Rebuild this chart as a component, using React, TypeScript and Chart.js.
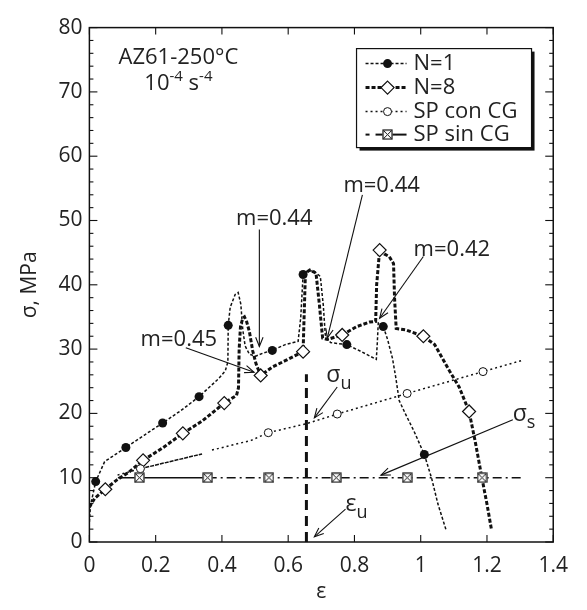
import React, { useEffect, useRef } from "react";
import { Chart, registerables } from "chart.js";
Chart.register(...registerables);

const FONT = "'Open Sans', 'Noto Sans', sans-serif";
const TEXT = "#222";
const INK = "#111";

// ---- axes ----
const xMin = 0, xMax = 1.4, xStep = 0.2;
const yMin = 0, yMax = 80, yStep = 10, yMinorStep = 2;

// ---- N=1 ----
const n1Strain = [0, 0.003, 0.019, 0.046, 0.110, 0.165, 0.221, 0.275, 0.331, 0.39, 0.41, 0.418, 0.419, 0.425, 0.44, 0.449, 0.457, 0.463, 0.47, 0.483, 0.502, 0.525, 0.552, 0.591, 0.630, 0.638, 0.645, 0.66, 0.679, 0.697, 0.706, 0.712, 0.728, 0.777, 0.817, 0.866, 0.869, 0.872, 0.887, 0.90, 0.915, 0.925, 0.935, 0.955, 0.98, 1.011, 1.033, 1.052, 1.077];
const n1Stress = [3.1, 5.6, 9.4, 12.5, 14.7, 16.6, 18.5, 20.4, 22.6, 25.4, 26.6, 28.0, 33.7, 36.5, 38.5, 38.8, 37.0, 33.0, 30.5, 29.2, 28.9, 29.4, 29.8, 30.7, 31.2, 35.0, 41.6, 42.2, 42.1, 41.3, 36.8, 32.2, 31.0, 30.7, 29.7, 28.4, 31.0, 34.2, 33.5, 31.5, 28.5, 25.5, 22.0, 19.8, 17.2, 13.6, 9.9, 5.9, 1.8];
const n1Markers = [2, 4, 6, 8, 12, 22, 26, 33, 38, 45];

// ---- N=8 ----
const n8Strain = [0, 0.016, 0.048, 0.084, 0.12, 0.162, 0.223, 0.282, 0.340, 0.407, 0.444, 0.450, 0.452, 0.456, 0.463, 0.468, 0.475, 0.483, 0.493, 0.503, 0.517, 0.552, 0.591, 0.645, 0.648, 0.652, 0.665, 0.684, 0.694, 0.704, 0.718, 0.763, 0.807, 0.846, 0.864, 0.867, 0.876, 0.89, 0.905, 0.918, 0.921, 0.926, 0.954, 1.008, 1.042, 1.087, 1.116, 1.146, 1.165, 1.185, 1.2, 1.214];
const n8Stress = [5.4, 6.8, 8.2, 9.7, 10.9, 12.7, 14.7, 16.9, 18.8, 21.6, 22.8, 24.0, 30.0, 33.5, 34.8, 35.0, 34.2, 32.7, 29.7, 27.7, 25.9, 27.2, 28.2, 29.6, 35.0, 41.8, 42.3, 41.8, 37.0, 31.7, 31.5, 32.2, 33.5, 34.2, 34.3, 40.0, 45.4, 44.8, 44.4, 43.3, 38.0, 33.2, 33.0, 32.0, 30.7, 26.6, 24.1, 20.3, 15.5, 9.9, 5.9, 1.8];
const n8Markers = [2, 5, 7, 9, 20, 23, 31, 36, 43, 47];

// ---- SP con CG ----
const spcStrain = [0.085, 0.154, 0.34, 0.355, 0.37, 0.488, 0.540, 0.655, 0.748, 0.959, 1.188, 1.303];
const spcStress = [10.4, 11.4, 13.7, null, 14.3, 15.8, 17.0, 18.4, 19.9, 23.1, 26.5, 28.2];
const spcMarkers = [1, 6, 8, 9, 10];
const spcSolidSegments = [1];

// ---- SP sin CG ----
const spsStrain = [0.086, 0.151, 0.357, 0.542, 0.745, 0.959, 1.185, 1.303];
const spsStress = [10, 10, 10, 10, 10, 10, 10, 10];
const spsMarkers = [1, 2, 3, 4, 5, 6];
const spsSolidSegments = [0, 1];

// ---- uniform strain line ----
const epsUStrain = [0.655, 0.655];
const epsUStress = [0, 26.1];

const legendLabels = ["N=1", "N=8", "SP con CG", "SP sin CG"];

// annotations in data coordinates
const annotations = [
  { text: "m=0.45", sub: "", at: [0.270, 31.8], from: [0.291, 30.2], to: [0.497, 26.4] },
  { text: "m=0.44", sub: "", at: [0.558, 50.5], from: [0.513, 48.6], to: [0.513, 30.4] },
  { text: "m=0.44", sub: "", at: [0.882, 55.6], from: [0.824, 54.0], to: [0.718, 31.7] },
  { text: "m=0.42", sub: "", at: [1.094, 45.7], from: [1.008, 44.4], to: [0.876, 34.8] },
  { text: "σ", sub: "u", at: [0.753, 25.4], from: [0.748, 24.1], to: [0.679, 19.3] },
  { text: "σ", sub: "s", at: [1.312, 19.3], from: [1.278, 19.0], to: [0.880, 10.4] },
  { text: "ε", sub: "u", at: [0.806, 5.3], from: [0.773, 5.1], to: [0.679, 0.8] },
];

function pts(xs: number[], ys: (number | null)[]) {
  return xs.map((x, i) => ({ x, y: ys[i] }));
}

function makeCrossSquare(): HTMLCanvasElement {
  const c = document.createElement("canvas");
  c.width = 11; c.height = 11;
  const g = c.getContext("2d")!;
  g.fillStyle = "#fff";
  g.fillRect(0.5, 0.5, 10, 10);
  g.strokeStyle = INK; g.lineWidth = 1.2;
  g.strokeRect(1, 1, 9, 9);
  g.lineWidth = 1;
  g.beginPath();
  g.moveTo(1.5, 1.5); g.lineTo(9.5, 9.5);
  g.moveTo(9.5, 1.5); g.lineTo(1.5, 9.5);
  g.stroke();
  return c;
}

function line(ctx: CanvasRenderingContext2D, x1: number, y1: number, x2: number, y2: number) {
  ctx.beginPath(); ctx.moveTo(x1, y1); ctx.lineTo(x2, y2); ctx.stroke();
}

function arrow(ctx: CanvasRenderingContext2D, x1: number, y1: number, x2: number, y2: number) {
  ctx.save();
  ctx.setLineDash([]);
  ctx.strokeStyle = INK; ctx.lineWidth = 1.1;
  line(ctx, x1, y1, x2, y2);
  const a = Math.atan2(y2 - y1, x2 - x1);
  const L = 10, s = 0.38;
  ctx.beginPath();
  ctx.moveTo(x2 - L * Math.cos(a - s), y2 - L * Math.sin(a - s));
  ctx.lineTo(x2, y2);
  ctx.lineTo(x2 - L * Math.cos(a + s), y2 - L * Math.sin(a + s));
  ctx.stroke();
  ctx.restore();
}

type Run = { t: string; size: number; dy: number };
function drawRuns(ctx: CanvasRenderingContext2D, runs: Run[], cx: number, baseY: number) {
  let w = 0;
  const ws: number[] = [];
  runs.forEach((r) => { ctx.font = `${r.size}px ${FONT}`; const m = ctx.measureText(r.t).width; ws.push(m); w += m; });
  let x = cx - w / 2;
  ctx.textAlign = "left";
  ctx.textBaseline = "alphabetic";
  runs.forEach((r, i) => { ctx.font = `${r.size}px ${FONT}`; ctx.fillText(r.t, x, baseY + r.dy); x += ws[i]; });
}

const overlayPlugin = {
  id: "overlay",
  afterDatasetsDraw(chart: any) {
    const { ctx, chartArea, scales } = chart;
    const { left, right, top, bottom } = chartArea;
    const x = scales.x, y = scales.y;
    ctx.save();
    // frame
    ctx.strokeStyle = INK; ctx.lineWidth = 1.5; ctx.setLineDash([]);
    ctx.strokeRect(left, top, right - left, bottom - top);
    // inward ticks
    ctx.lineWidth = 1.1;
    for (let v = yMin; v <= yMax + 1e-9; v += yMinorStep) {
      const py = y.getPixelForValue(v);
      const len = Math.abs(v % yStep) < 1e-9 ? 8 : 4;
      line(ctx, left, py, left + len, py);
      line(ctx, right, py, right - len, py);
    }
    x.ticks.forEach((t: any) => {
      const px = x.getPixelForValue(t.value);
      line(ctx, px, bottom, px, bottom - 7);
      line(ctx, px, top, px, top + 7);
    });

    // annotations
    ctx.fillStyle = TEXT;
    annotations.forEach((a) => {
      arrow(ctx, x.getPixelForValue(a.from[0]), y.getPixelForValue(a.from[1]), x.getPixelForValue(a.to[0]), y.getPixelForValue(a.to[1]));
      const cx = x.getPixelForValue(a.at[0]);
      const cy = y.getPixelForValue(a.at[1]);
      if (a.sub) {
        drawRuns(ctx, [{ t: a.text, size: 23, dy: 0 }, { t: a.sub, size: 18, dy: 7 }], cx, cy + 3);
      } else {
        drawRuns(ctx, [{ t: a.text, size: 22, dy: 0 }], cx, cy + 8);
      }
    });

    // title block
    const tx = left + 89;
    drawRuns(ctx, [{ t: "AZ61-250°C", size: 22, dy: 0 }], tx, top + 36);
    drawRuns(ctx, [
      { t: "10", size: 22, dy: 0 }, { t: "-4", size: 15, dy: -9 },
      { t: " s", size: 22, dy: 0 }, { t: "-4", size: 15, dy: -9 },
    ], tx, top + 62);

    // legend
    const bw = 175, bh = 99;
    const bx = right - 21.7 - bw, by = top + 21;
    ctx.fillStyle = INK;
    ctx.fillRect(bx + 3, by + 3, bw, bh);
    ctx.fillStyle = "#fff";
    ctx.fillRect(bx, by, bw, bh);
    ctx.strokeStyle = INK; ctx.lineWidth = 1.2;
    ctx.strokeRect(bx, by, bw, bh);
    const rows = [15, 39, 63, 86];
    const sx1 = bx + 9, sx2 = bx + 50, mx = bx + 31;
    // N=1
    ctx.save();
    ctx.lineWidth = 1.5; ctx.setLineDash([3, 2]);
    line(ctx, sx1, by + rows[0], sx2, by + rows[0]);
    ctx.setLineDash([]);
    ctx.fillStyle = INK; ctx.beginPath(); ctx.arc(mx, by + rows[0], 4.5, 0, Math.PI * 2); ctx.fill();
    // N=8
    ctx.lineWidth = 3; ctx.setLineDash([4, 2]);
    line(ctx, sx1, by + rows[1], sx2, by + rows[1]);
    ctx.setLineDash([]);
    ctx.fillStyle = "#fff"; ctx.lineWidth = 1.2;
    ctx.beginPath(); const d = 6.5, ry = by + rows[1];
    ctx.moveTo(mx, ry - d); ctx.lineTo(mx + d, ry); ctx.lineTo(mx, ry + d); ctx.lineTo(mx - d, ry); ctx.closePath();
    ctx.fill(); ctx.stroke();
    // SP con CG
    ctx.lineWidth = 1.5; ctx.setLineDash([2, 3]);
    line(ctx, sx1, by + rows[2], sx2, by + rows[2]);
    ctx.setLineDash([]); ctx.lineWidth = 1;
    ctx.beginPath(); ctx.arc(mx, by + rows[2], 4, 0, Math.PI * 2); ctx.fill(); ctx.stroke();
    // SP sin CG
    ctx.lineWidth = 2; ctx.setLineDash([]);
    line(ctx, sx1, by + rows[3], sx1 + 4, by + rows[3]);
    line(ctx, sx1 + 10, by + rows[3], sx2, by + rows[3]);
    ctx.drawImage(crossSquare, mx - 5.5, by + rows[3] - 5.5);
    ctx.restore();
    ctx.fillStyle = TEXT;
    ctx.font = `22px ${FONT}`;
    ctx.textAlign = "left"; ctx.textBaseline = "middle";
    legendLabels.forEach((l, i) => ctx.fillText(l, bx + 57, by + rows[i]));
    ctx.restore();
  },
};

let crossSquare: HTMLCanvasElement;

export default function App() {
  const ref = useRef<HTMLCanvasElement>(null);
  useEffect(() => {
    if (!ref.current) return;
    crossSquare = makeCrossSquare();
    const radius = (idx: number[], r: number) => (c: any) => (idx.includes(c.dataIndex) ? r : 0);
    const chart = new Chart(ref.current, {
      type: "scatter",
      data: {
        datasets: [
          {
            label: "εu", data: pts(epsUStrain, epsUStress), showLine: true,
            borderColor: INK, borderWidth: 3, borderDash: [10, 6], pointRadius: 0,
          },
          {
            label: legendLabels[3], data: pts(spsStrain, spsStress), showLine: true,
            borderColor: INK, borderWidth: 1.5, borderDash: [9, 4, 2, 4],
            segment: { borderDash: (c: any) => (spsSolidSegments.includes(c.p0DataIndex) ? [] : [9, 4, 2, 4]) },
            pointStyle: () => crossSquare, pointRadius: radius(spsMarkers, 5.5),
          },
          {
            label: legendLabels[2], data: pts(spcStrain, spcStress as any), showLine: true, spanGaps: false,
            borderColor: INK, borderWidth: 1.5, borderDash: [2, 3],
            segment: { borderDash: (c: any) => (spcSolidSegments.includes(c.p0DataIndex) ? [4, 1] : [2, 3]) },
            pointStyle: "circle", pointRadius: radius(spcMarkers, 4),
            pointBackgroundColor: "#fff", pointBorderColor: INK, pointBorderWidth: 1,
          },
          {
            label: legendLabels[1], data: pts(n8Strain, n8Stress), showLine: true,
            borderColor: INK, borderWidth: 3, borderDash: [4, 2],
            pointStyle: "rectRot", pointRadius: radius(n8Markers, 6.5),
            pointBackgroundColor: "#fff", pointBorderColor: INK, pointBorderWidth: 1.2,
          },
          {
            label: legendLabels[0], data: pts(n1Strain, n1Stress), showLine: true,
            borderColor: INK, borderWidth: 1.5, borderDash: [3, 2],
            pointStyle: "circle", pointRadius: radius(n1Markers, 4.5),
            pointBackgroundColor: INK, pointBorderColor: INK, pointBorderWidth: 0,
          },
        ],
      },
      options: {
        responsive: false,
        animation: false,
        events: [],
        layout: { padding: { top: 8, right: 14, left: 0, bottom: 0 } },
        plugins: { legend: { display: false }, tooltip: { enabled: false } },
        elements: { line: { tension: 0 } },
        scales: {
          x: {
            type: "linear", min: xMin, max: xMax,
            grid: { display: false, drawTicks: false },
            border: { display: false },
            ticks: {
              stepSize: xStep, autoSkip: false, maxRotation: 0, padding: 11,
              color: TEXT, font: { family: FONT, size: 21 },
              callback: (v: any) => String(Math.round(Number(v) * 10) / 10),
            },
            title: { display: true, text: "ε", color: TEXT, font: { family: FONT, size: 21 }, padding: { top: 0, bottom: -3 } },
            afterFit: (s: any) => { s.height = 60; },
          },
          y: {
            type: "linear", min: yMin, max: yMax,
            grid: { display: false, drawTicks: false },
            border: { display: false },
            ticks: {
              stepSize: yStep, autoSkip: false, padding: 7,
              color: TEXT, font: { family: FONT, size: 21 },
            },
            title: { display: true, text: "σ, MPa", color: TEXT, font: { family: FONT, size: 21 }, padding: { top: 9, bottom: 0 } },
            afterFit: (s: any) => { s.width = 81.4; },
          },
        },
      },
      plugins: [overlayPlugin],
    } as any);
    return () => chart.destroy();
  }, []);
  return (
    <div style={{ width: 571, height: 594 }}>
      <canvas ref={ref} width={571} height={594} style={{ display: "block" }} />
    </div>
  );
}
